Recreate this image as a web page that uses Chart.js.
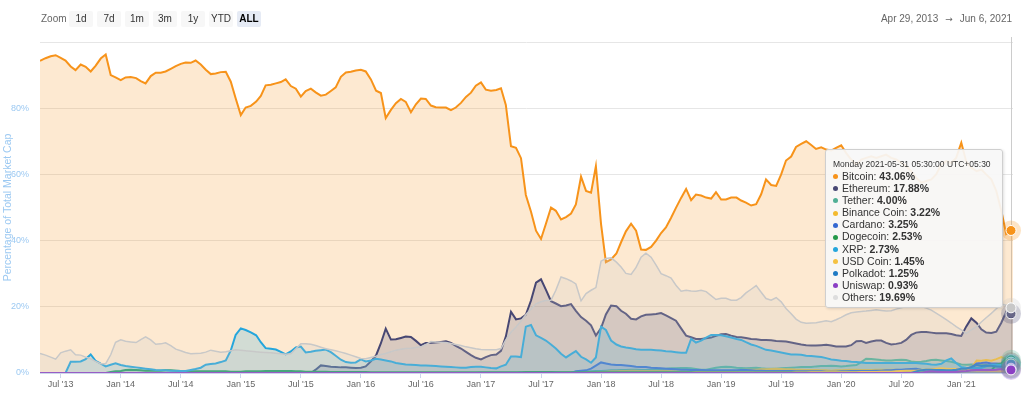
<!DOCTYPE html>
<html><head><meta charset="utf-8">
<script src="https://cdn.jsdelivr.net/npm/chart.js@4"></script>
<style>
html,body{margin:0;padding:0;background:#fff;}
#wrap{position:relative;width:1024px;height:408px;overflow:hidden;font-family:"Liberation Sans",Arial,sans-serif;}
#c{position:absolute;left:0;top:0;}
.zl{position:absolute;left:41px;top:13px;font-size:10px;line-height:12px;color:#666;}
.btn{position:absolute;top:11px;width:24px;height:16px;line-height:16px;text-align:center;font-size:10px;color:#333;background:#f7f7f7;border-radius:2px;}
.btn.on{background:#e6ebf5;color:#000;font-weight:bold;}
#range{position:absolute;right:12px;top:13px;font-size:10px;line-height:12px;color:#666;white-space:nowrap;}
#range .ar{margin:0 7px;font-family:"DejaVu Sans",sans-serif;font-size:9px;}
#tip{position:absolute;left:825px;top:149px;width:178px;height:159px;box-sizing:border-box;background:rgba(247,247,247,0.93);border:1px solid #cfcfcf;border-radius:3px;box-shadow:1px 1px 3px rgba(0,0,0,0.12);padding:8px 0 0 7px;color:#333;white-space:nowrap;}
#tip .hd{font-size:8.5px;line-height:12px;}
#tip .row{font-size:10.5px;line-height:12.1px;}
#tip .dot{display:inline-block;width:5px;height:5px;border-radius:50%;margin:0 4px 1px 0;vertical-align:middle;}
#tip b{font-weight:bold;}
</style></head><body>
<div id="wrap">
<canvas id="c" width="1024" height="408"></canvas>
<div class="zl">Zoom</div>
<div id="btns"></div>
<div id="range"><span>Apr 29, 2013</span><span class="ar">→</span><span>Jun 6, 2021</span></div>
<div id="tip"></div>
</div>
<script>
// half-monthly sample dates
const dates = [
'2013-04-29','2013-05-16','2013-06-01','2013-06-16','2013-07-01','2013-07-16','2013-08-01','2013-08-16','2013-09-01','2013-09-16','2013-10-01','2013-10-16','2013-11-01','2013-11-16','2013-12-01','2013-12-16',
'2014-01-01','2014-01-16','2014-02-01','2014-02-16','2014-03-01','2014-03-16','2014-04-01','2014-04-16','2014-05-01','2014-05-16','2014-06-01','2014-06-16','2014-07-01','2014-07-16','2014-08-01','2014-08-16','2014-09-01','2014-09-16','2014-10-01','2014-10-16','2014-11-01','2014-11-16','2014-12-01','2014-12-16',
'2015-01-01','2015-01-16','2015-02-01','2015-02-16','2015-03-01','2015-03-16','2015-04-01','2015-04-16','2015-05-01','2015-05-16','2015-06-01','2015-06-16','2015-07-01','2015-07-16','2015-08-01','2015-08-16','2015-09-01','2015-09-16','2015-10-01','2015-10-16','2015-11-01','2015-11-16','2015-12-01','2015-12-16',
'2016-01-01','2016-01-16','2016-02-01','2016-02-16','2016-03-01','2016-03-16','2016-04-01','2016-04-16','2016-05-01','2016-05-16','2016-06-01','2016-06-16','2016-07-01','2016-07-16','2016-08-01','2016-08-16','2016-09-01','2016-09-16','2016-10-01','2016-10-16','2016-11-01','2016-11-16','2016-12-01','2016-12-16',
'2017-01-01','2017-01-16','2017-02-01','2017-02-16','2017-03-01','2017-03-16','2017-04-01','2017-04-16','2017-05-01','2017-05-16','2017-06-01','2017-06-16','2017-07-01','2017-07-16','2017-08-01','2017-08-16','2017-09-01','2017-09-16','2017-10-01','2017-10-16','2017-11-01','2017-11-16','2017-12-01','2017-12-16',
'2018-01-01','2018-01-16','2018-02-01','2018-02-16','2018-03-01','2018-03-16','2018-04-01','2018-04-16','2018-05-01','2018-05-16','2018-06-01','2018-06-16','2018-07-01','2018-07-16','2018-08-01','2018-08-16','2018-09-01','2018-09-16','2018-10-01','2018-10-16','2018-11-01','2018-11-16','2018-12-01','2018-12-16',
'2019-01-01','2019-01-16','2019-02-01','2019-02-16','2019-03-01','2019-03-16','2019-04-01','2019-04-16','2019-05-01','2019-05-16','2019-06-01','2019-06-16','2019-07-01','2019-07-16','2019-08-01','2019-08-16','2019-09-01','2019-09-16','2019-10-01','2019-10-16','2019-11-01','2019-11-16','2019-12-01','2019-12-16',
'2020-01-01','2020-01-16','2020-02-01','2020-02-16','2020-03-01','2020-03-16','2020-04-01','2020-04-16','2020-05-01','2020-05-16','2020-06-01','2020-06-16','2020-07-01','2020-07-16','2020-08-01','2020-08-16','2020-09-01','2020-09-16','2020-10-01','2020-10-16','2020-11-01','2020-11-16','2020-12-01','2020-12-16',
'2021-01-01','2021-01-16','2021-02-01','2021-02-16','2021-03-01','2021-03-16','2021-04-01','2021-04-16','2021-05-01','2021-05-16','2021-05-31','2021-06-06'
];

const bitcoin = [
94.3,95.1,95.7,96.0,95.2,94.4,92.6,91.5,93.2,92.5,91.1,92.8,95.0,96.2,90.0,89.3,
88.5,89.3,89.4,89.1,88.2,87.5,89.7,90.7,90.7,91.1,91.9,92.7,93.4,93.8,93.7,94.4,93.2,91.6,90.3,90.5,90.9,91.0,88.0,83.0,
77.9,80.2,80.7,82.0,83.7,86.9,87.1,87.5,87.9,88.7,86.7,85.9,83.5,85.2,85.9,84.8,83.8,84.1,85.2,86.3,89.5,90.8,91.0,91.4,
91.6,91.1,88.7,85.3,84.6,77.0,79.5,81.5,82.8,81.9,78.8,81.2,82.9,82.8,80.8,80.3,80.2,80.2,79.4,80.2,81.6,83.4,84.7,86.8,
87.8,85.6,85.3,85.5,86.0,81.0,68.5,68.0,64.9,53.8,48.7,43.0,40.5,45.0,50.0,49.0,46.4,47.1,48.2,50.9,59.3,55.0,54.5,62.5,
45.0,33.5,34.3,36.1,39.5,42.8,45.1,43.0,37.3,37.2,38.1,40.0,42.3,44.0,46.9,49.9,52.9,55.6,52.2,53.9,53.6,53.0,52.7,54.6,
52.4,52.4,53.0,53.0,52.1,51.5,50.6,51.0,54.0,58.5,56.8,56.5,60.0,64.2,65.4,68.3,69.2,70.0,68.9,67.7,68.2,67.5,67.2,68.0,
68.8,66.5,64.5,63.0,64.5,65.0,65.5,65.0,65.5,66.0,65.0,64.5,63.5,62.5,61.0,59.0,57.5,58.0,58.5,60.0,63.0,64.0,63.5,65.0,
69.6,64.0,62.0,61.0,61.5,60.0,58.5,55.0,49.0,42.0,43.06,44.5
];
const ethereum = [
0,0,0,0,0,0,0,0,0,0,0,0,0,0,0,0,
0,0,0,0,0,0,0,0,0,0,0,0,0,0,0,0,0,0,0,0,0,0,0,0,
0,0,0,0,0,0,0,0,0,0,0,0,0,0,0,1.0,2.3,2.1,1.9,1.8,1.7,1.7,1.6,1.5,
1.6,2.0,3.5,5.3,9.0,13.4,10.1,10.2,10.6,11.0,10.9,9.7,8.4,9.1,9.1,9.2,9.4,9.6,9.1,8.2,7.4,6.4,5.4,4.6,
4.1,4.8,5.4,5.6,6.7,11.0,18.5,16.2,16.5,17.6,21.9,27.3,28.3,25.2,21.7,21.0,20.2,20.4,20.8,18.8,16.9,15.8,14.4,11.3,
13.6,17.7,20.4,20.2,18.8,17.9,16.4,16.2,17.1,17.6,17.7,17.8,18.1,17.4,16.6,15.8,13.5,11.3,10.8,10.3,10.3,10.5,10.7,11.2,
11.7,11.8,11.3,10.9,10.8,10.6,10.3,10.2,10.0,10.0,9.9,9.7,9.6,9.5,9.2,8.9,8.6,8.4,8.3,8.3,8.4,8.5,8.3,8.0,
8.0,8.0,8.4,9.6,9.7,9.1,9.5,9.8,9.8,9.1,8.6,8.8,9.1,10.0,11.5,12.2,12.4,12.4,12.2,12.0,12.0,12.0,11.8,11.4,
11.2,14.0,16.5,15.1,13.2,12.2,12.1,12.5,15.2,18.5,17.88,18.3
];
const tether = [
0,0,0,0,0,0,0,0,0,0,0,0,0,0,0,0,
0,0,0,0,0,0,0,0,0,0,0,0,0,0,0,0,0,0,0,0,0,0,0,0,
0,0,0,0,0,0,0,0,0,0,0,0,0,0,0,0,0,0,0,0,0,0,0,0,
0,0,0,0,0,0,0,0,0,0,0,0,0,0,0,0,0,0,0,0,0,0,0,0,
0.1,0.1,0.1,0.1,0.1,0.1,0.1,0.1,0.2,0.2,0.2,0.2,0.2,0.2,0.3,0.3,0.3,0.3,0.3,0.3,0.4,0.4,0.5,0.6,
0.6,0.7,0.8,0.8,0.9,0.9,1.0,1.0,0.9,0.9,1.0,1.1,1.2,1.3,1.4,1.4,1.5,1.5,1.4,1.2,1.0,1.0,1.3,1.6,
1.8,1.9,1.8,1.6,1.5,1.4,1.5,1.6,1.4,1.3,1.3,1.3,1.4,1.5,1.6,1.7,1.8,1.8,1.8,2.0,2.1,2.1,2.2,2.1,
2.0,2.1,2.3,2.4,3.3,4.3,4.2,4.1,3.9,3.8,3.8,3.9,4.0,3.9,3.5,3.3,3.4,3.6,3.9,4.0,3.8,3.6,3.4,3.0,
2.6,2.5,2.6,2.5,2.5,2.4,2.3,2.4,2.2,3.0,4.00,4.0
];
const binanceCoin = [
0,0,0,0,0,0,0,0,0,0,0,0,0,0,0,0,
0,0,0,0,0,0,0,0,0,0,0,0,0,0,0,0,0,0,0,0,0,0,0,0,
0,0,0,0,0,0,0,0,0,0,0,0,0,0,0,0,0,0,0,0,0,0,0,0,
0,0,0,0,0,0,0,0,0,0,0,0,0,0,0,0,0,0,0,0,0,0,0,0,
0,0,0,0,0,0,0,0,0,0,0,0,0,0,0,0,0.05,0.1,0.1,0.1,0.1,0.15,0.15,0.2,
0.3,0.4,0.5,0.5,0.6,0.6,0.7,0.7,0.6,0.6,0.6,0.6,0.6,0.6,0.5,0.5,0.5,0.5,0.5,0.5,0.5,0.5,0.5,0.5,
0.5,0.5,0.6,0.7,0.9,1.0,1.0,1.0,1.1,1.1,1.2,1.3,1.2,1.1,1.1,1.0,1.0,0.9,0.9,0.9,0.8,0.8,0.7,0.8,
0.8,0.9,1.0,1.0,0.9,0.9,0.9,1.0,1.0,1.0,1.0,1.0,0.9,0.9,0.9,1.0,1.0,1.0,0.9,0.8,0.8,0.8,0.9,0.9,
1.0,1.2,1.5,3.8,3.7,3.9,3.7,4.2,4.8,4.2,3.22,3.3
];
const cardano = [
0,0,0,0,0,0,0,0,0,0,0,0,0,0,0,0,
0,0,0,0,0,0,0,0,0,0,0,0,0,0,0,0,0,0,0,0,0,0,0,0,
0,0,0,0,0,0,0,0,0,0,0,0,0,0,0,0,0,0,0,0,0,0,0,0,
0,0,0,0,0,0,0,0,0,0,0,0,0,0,0,0,0,0,0,0,0,0,0,0,
0,0,0,0,0,0,0,0,0,0,0,0,0,0,0,0,0,0,0,0.5,0.7,0.8,1.3,2.2,
3.2,2.9,2.6,2.4,2.4,2.3,2.1,1.9,1.8,1.8,1.6,1.5,1.4,1.3,1.2,1.1,1.0,1.0,0.9,0.9,0.9,0.8,0.8,0.8,
0.8,0.8,0.8,0.8,0.9,0.9,0.8,0.7,0.7,0.6,0.6,0.6,0.6,0.6,0.6,0.5,0.5,0.5,0.5,0.5,0.5,0.4,0.4,0.4,
0.5,0.5,0.6,0.6,0.6,0.6,0.6,0.7,0.7,0.8,0.8,1.0,1.0,1.1,1.2,1.3,1.0,0.9,0.9,0.9,0.8,0.8,0.9,0.8,
1.1,1.3,1.7,2.9,3.0,3.2,2.9,2.9,2.8,3.6,3.25,3.2
];
const dogecoin = [
0,0,0,0,0,0,0,0,0,0,0,0,0,0,0.3,0.5,
0.6,0.9,1.0,0.9,0.8,0.7,0.7,0.7,0.7,0.8,0.8,0.7,0.6,0.5,0.5,0.5,0.5,0.5,0.5,0.5,0.5,0.5,0.4,0.4,
0.4,0.5,0.5,0.5,0.5,0.6,0.6,0.6,0.6,0.6,0.6,0.5,0.5,0.4,0.4,0.4,0.4,0.4,0.3,0.3,0.3,0.3,0.3,0.3,
0.3,0.3,0.2,0.2,0.2,0.2,0.2,0.2,0.2,0.2,0.2,0.2,0.2,0.2,0.2,0.2,0.2,0.2,0.2,0.2,0.2,0.2,0.2,0.2,
0.2,0.2,0.2,0.2,0.2,0.2,0.2,0.2,0.2,0.3,0.3,0.3,0.3,0.3,0.3,0.2,0.2,0.2,0.2,0.2,0.2,0.2,0.2,0.2,
0.2,0.2,0.2,0.2,0.2,0.2,0.2,0.2,0.2,0.2,0.2,0.2,0.2,0.2,0.2,0.2,0.2,0.2,0.2,0.2,0.2,0.2,0.2,0.2,
0.2,0.2,0.2,0.2,0.2,0.2,0.2,0.2,0.2,0.2,0.2,0.2,0.2,0.2,0.2,0.2,0.2,0.2,0.2,0.2,0.2,0.2,0.2,0.2,
0.2,0.2,0.2,0.2,0.2,0.2,0.2,0.2,0.2,0.2,0.2,0.2,0.2,0.2,0.2,0.2,0.2,0.2,0.2,0.2,0.2,0.2,0.2,0.2,
0.5,0.6,0.9,1.0,0.9,0.8,0.8,2.5,2.9,4.3,2.53,2.5
];
const xrp = [
0,0,0,0,0,0,3.4,3.4,3.5,4.2,5.6,3.7,2.8,2.0,2.5,2.9,
2.4,2.1,1.9,1.7,1.5,1.3,1.1,0.9,0.8,0.8,0.7,0.7,0.6,0.6,0.9,1.2,1.6,2.5,2.7,2.9,3.3,3.8,6.8,11.5,
13.5,13.0,12.3,11.4,9.3,7.5,7.3,7.1,6.4,5.6,6.5,7.7,8.0,6.2,6.4,6.7,6.9,7.1,6.3,5.2,4.0,3.3,3.1,3.2,
4.1,3.5,3.8,4.3,4.1,3.8,3.5,3.0,2.8,2.6,2.5,2.4,2.3,2.3,2.2,2.1,2.0,1.9,1.8,1.7,1.6,1.6,1.8,1.9,
1.9,1.7,1.5,1.4,2.0,2.5,5.0,5.0,4.8,14.0,14.5,11.4,10.6,9.8,8.6,7.4,5.8,4.7,5.7,6.6,4.9,4.1,3.1,4.7,
14.0,13.0,9.8,8.6,8.0,7.7,7.5,7.2,7.0,7.0,7.0,6.9,6.8,6.6,6.5,6.3,6.1,6.1,10.3,9.2,9.8,10.7,11.5,11.5,
11.4,11.1,10.7,10.3,10.0,9.3,8.6,8.2,7.6,7.0,6.8,6.5,6.2,5.9,5.6,5.6,5.5,5.2,5.1,5.0,4.8,4.5,4.1,3.9,
3.7,3.6,3.4,3.3,3.2,3.0,3.0,3.0,3.0,3.0,3.0,3.0,3.0,3.0,3.0,3.0,2.9,2.8,2.6,2.5,2.8,3.8,4.4,3.0,
1.8,1.6,1.5,1.5,1.5,2.0,2.5,2.5,2.5,2.6,2.73,2.7
];
const usdCoin = [
0,0,0,0,0,0,0,0,0,0,0,0,0,0,0,0,
0,0,0,0,0,0,0,0,0,0,0,0,0,0,0,0,0,0,0,0,0,0,0,0,
0,0,0,0,0,0,0,0,0,0,0,0,0,0,0,0,0,0,0,0,0,0,0,0,
0,0,0,0,0,0,0,0,0,0,0,0,0,0,0,0,0,0,0,0,0,0,0,0,
0,0,0,0,0,0,0,0,0,0,0,0,0,0,0,0,0,0,0,0,0,0,0,0,
0,0,0,0,0,0,0,0,0,0,0,0,0,0,0,0,0,0,0,0.05,0.05,0.1,0.1,0.1,
0.1,0.1,0.1,0.1,0.1,0.1,0.1,0.1,0.1,0.1,0.1,0.1,0.1,0.1,0.1,0.15,0.15,0.15,0.2,0.2,0.2,0.2,0.2,0.2,
0.2,0.2,0.2,0.2,0.3,0.3,0.3,0.3,0.4,0.4,0.4,0.5,0.6,0.7,0.7,0.7,0.8,1.0,1.1,1.3,1.4,1.3,1.2,1.2,
1.0,0.9,0.8,0.7,0.7,0.7,0.6,0.6,0.5,0.8,1.45,1.5
];
const polkadot = [
0,0,0,0,0,0,0,0,0,0,0,0,0,0,0,0,
0,0,0,0,0,0,0,0,0,0,0,0,0,0,0,0,0,0,0,0,0,0,0,0,
0,0,0,0,0,0,0,0,0,0,0,0,0,0,0,0,0,0,0,0,0,0,0,0,
0,0,0,0,0,0,0,0,0,0,0,0,0,0,0,0,0,0,0,0,0,0,0,0,
0,0,0,0,0,0,0,0,0,0,0,0,0,0,0,0,0,0,0,0,0,0,0,0,
0,0,0,0,0,0,0,0,0,0,0,0,0,0,0,0,0,0,0,0,0,0,0,0,
0,0,0,0,0,0,0,0,0,0,0,0,0,0,0,0,0,0,0,0,0,0,0,0,
0,0,0,0,0,0,0,0,0,0,0,0,0,0,0,0.5,0.8,1.0,1.0,0.9,0.9,0.8,0.8,1.0,
1.3,1.3,1.8,2.4,2.1,2.3,2.2,2.0,1.9,1.6,1.25,1.2
];
const uniswap = [
0,0,0,0,0,0,0,0,0,0,0,0,0,0,0,0,
0,0,0,0,0,0,0,0,0,0,0,0,0,0,0,0,0,0,0,0,0,0,0,0,
0,0,0,0,0,0,0,0,0,0,0,0,0,0,0,0,0,0,0,0,0,0,0,0,
0,0,0,0,0,0,0,0,0,0,0,0,0,0,0,0,0,0,0,0,0,0,0,0,
0,0,0,0,0,0,0,0,0,0,0,0,0,0,0,0,0,0,0,0,0,0,0,0,
0,0,0,0,0,0,0,0,0,0,0,0,0,0,0,0,0,0,0,0,0,0,0,0,
0,0,0,0,0,0,0,0,0,0,0,0,0,0,0,0,0,0,0,0,0,0,0,0,
0,0,0,0,0,0,0,0,0,0,0,0,0,0,0,0,0,0.3,0.5,0.4,0.3,0.3,0.3,0.3,
0.5,0.6,0.8,0.9,0.9,0.9,0.9,1.0,1.2,1.0,0.93,0.9
];
const others = [
5.9,5.4,4.8,4.2,6.1,6.6,7.0,5.5,5.4,4.8,4.3,3.5,2.8,2.8,5.5,9.3,
10.0,9.6,9.4,9.2,10.1,10.9,10.0,8.7,8.8,9.1,8.3,7.2,6.7,6.2,5.8,5.9,6.0,6.3,6.9,6.6,6.3,6.4,6.7,7.0,
6.9,6.7,6.6,6.4,6.3,6.2,6.1,6.0,5.8,5.7,5.8,7.3,8.8,8.8,8.7,8.3,7.8,7.3,7.0,6.7,6.3,5.9,5.4,4.9,
4.4,4.3,4.7,5.1,5.6,5.9,6.4,6.9,7.2,7.4,7.5,7.7,7.9,8.6,9.5,9.4,9.3,9.2,8.9,8.6,8.3,7.9,7.6,7.3,
7.1,7.0,7.0,7.0,7.4,10.0,12.3,13.9,15.7,17.6,19.3,20.9,21.5,21.9,22.0,25.0,29.0,28.5,27.8,26.9,21.8,24.0,25.0,25.8,
33.8,34.6,34.8,33.5,32.0,30.1,29.8,31.9,35.0,36.2,35.0,32.6,30.0,29.4,28.7,26.5,24.7,25.0,24.8,24.7,25.0,24.6,23.4,22.2,
22.6,22.6,22.0,22.0,22.8,24.2,25.3,26.4,24.4,22.5,22.0,22.8,21.5,19.5,17.9,16.3,15.3,15.0,15.1,15.2,15.5,15.8,15.5,16.1,
16.8,17.6,18.2,18.4,18.6,18.7,18.9,19.1,18.9,18.7,18.8,19.3,19.7,20.1,20.1,20.1,20.1,19.6,19.0,18.1,17.1,16.1,15.1,14.0,
13.0,12.0,13.0,14.0,15.4,16.7,18.0,19.4,20.8,20.5,19.69,19.9
];

const seriesNames = ['Bitcoin','Ethereum','Tether','Binance Coin','Cardano','Dogecoin','XRP','USD Coin','Polkadot','Uniswap','Others'];
const seriesColors = ['#f7931a','#474773','#50af95','#f3ba2f','#3468d1','#24994a','#25a6dc','#f5c242','#1f7ac4','#8b3fc4','#c8c8c8'];
const seriesValues = [bitcoin,ethereum,tether,binanceCoin,cardano,dogecoin,xrp,usdCoin,polkadot,uniswap,others];

const xTickDates = ['2013-07-01','2014-01-01','2014-07-01','2015-01-01','2015-07-01','2016-01-01','2016-07-01','2017-01-01','2017-07-01','2018-01-01','2018-07-01','2019-01-01','2019-07-01','2020-01-01','2020-07-01','2021-01-01'];
const xTickLabels = ["Jul '13","Jan '14","Jul '14","Jan '15","Jul '15","Jan '16","Jul '16","Jan '17","Jul '17","Jan '18","Jul '18","Jan '19","Jul '19","Jan '20","Jul '20","Jan '21"];
const yTickValues = [0,20,40,60,80,100];
const yTickLabels = ['0%','20%','40%','60%','80%',''];
const hoverDate = '2021-05-31';
const tooltipTitle = 'Monday 2021-05-31 05:30:00 UTC+05:30';
const rangeStart = '2013-04-29', rangeEnd = '2021-06-06';
const zoomButtons = ['1d','7d','1m','3m','1y','YTD','ALL'];

seriesValues.forEach((a,i)=>{ if(a.length!==dates.length) throw new Error(seriesNames[i]+' length '+a.length+' vs '+dates.length); });

function toMonths(d){ const p=d.split('-').map(Number); const dim=new Date(Date.UTC(p[0],p[1],0)).getUTCDate(); return (p[0]-2013)*12+(p[1]-1)+(p[2]-1)/dim; }
function rgba(hex,a){ const n=parseInt(hex.slice(1),16); return 'rgba('+((n>>16)&255)+','+((n>>8)&255)+','+(n&255)+','+a+')'; }
const xs = dates.map(toMonths);
const HOVER = dates.indexOf(hoverDate);

// toolbar
const bw=document.getElementById('btns');
zoomButtons.forEach((t,i)=>{ const b=document.createElement('div'); b.className='btn'+(t==='ALL'?' on':''); b.style.left=(69+28*i)+'px'; b.textContent=t; bw.appendChild(b); });

// tooltip
const tip=document.getElementById('tip');
let html='<div class="hd">'+tooltipTitle+'</div>';
seriesNames.forEach((n,i)=>{ const c = i===10 ? '#dddddd' : seriesColors[i]; html+='<div class="row"><span class="dot" style="background:'+c+'"></span>'+n+': <b>'+seriesValues[i][HOVER].toFixed(2)+'%</b></div>'; });
tip.innerHTML=html;

const hoverPlugin = {
  id:'hoverMarks',
  beforeDatasetsDraw(chart){
    const pt=chart.getDatasetMeta(0).data[HOVER]; const ctx=chart.ctx;
    ctx.save(); ctx.strokeStyle='#cccccc'; ctx.lineWidth=1; ctx.beginPath();
    const x=Math.round(pt.x)+0.5; ctx.moveTo(x,37); ctx.lineTo(x,chart.chartArea.bottom); ctx.stroke(); ctx.restore();
  },
  afterDatasetsDraw(chart){
    const ctx=chart.ctx;
    chart.data.datasets.forEach((ds,i)=>{
      const pt=chart.getDatasetMeta(i).data[HOVER];
      ctx.save(); ctx.globalAlpha=0.25; ctx.fillStyle=ds.borderColor; ctx.beginPath(); ctx.arc(pt.x,pt.y,10,0,Math.PI*2); ctx.fill(); ctx.restore();
      ctx.save(); ctx.fillStyle=ds.borderColor; ctx.strokeStyle='#ffffff'; ctx.lineWidth=1; ctx.beginPath(); ctx.arc(pt.x,pt.y,5,0,Math.PI*2); ctx.fill(); ctx.stroke(); ctx.restore();
    });
  }
};

Chart.defaults.font.family='"Liberation Sans", Arial, sans-serif';
new Chart(document.getElementById('c'),{
  type:'line',
  data:{ datasets: seriesNames.map((name,i)=>({
    label:name,
    data: xs.map((x,j)=>({x:x,y:seriesValues[i][j]})),
    borderColor: seriesColors[i],
    backgroundColor: rgba(seriesColors[i], i===10?0.22:0.2),
    borderWidth: i===10?1.5:2,
    fill:'origin', pointRadius:0, pointHoverRadius:0, tension:0, order:10-i
  }))},
  options:{
    responsive:false, animation:false, devicePixelRatio:1,
    layout:{padding:{top:42,right:11,left:0,bottom:0}},
    plugins:{legend:{display:false}, tooltip:{enabled:false}},
    events:[],
    scales:{
      x:{ type:'linear', min:toMonths(rangeStart), max:toMonths(rangeEnd),
        afterBuildTicks(s){ s.ticks = xTickDates.map(d=>({value:toMonths(d)})); },
        ticks:{ autoSkip:false, maxRotation:0, color:'#666', font:{size:9}, padding:1, callback:(v,i)=>xTickLabels[i] },
        grid:{ drawOnChartArea:false, drawTicks:true, tickLength:5, color:'#ccd6eb' },
        border:{ color:'#ccd6eb' },
        afterFit(s){ s.height=35; } },
      y:{ min:0, max:100,
        afterBuildTicks(s){ s.ticks = yTickValues.map(v=>({value:v})); },
        ticks:{ color:'#9cc9f2', font:{size:9}, padding:11, callback:(v,i)=>yTickLabels[i] },
        grid:{ color:'#e6e6e6', drawTicks:false },
        border:{ display:false },
        title:{ display:true, text:'Percentage of Total Market Cap', color:'#9cc9f2', font:{size:10.5}, padding:{top:2,bottom:0} },
        afterFit(s){ s.width=40; } }
    }
  },
  plugins:[hoverPlugin]
});
</script>
</body></html>
